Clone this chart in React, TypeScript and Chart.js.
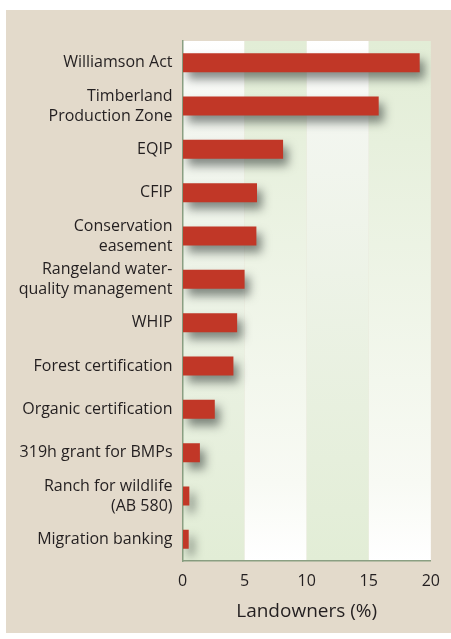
import React, { useEffect, useRef } from "react";
import { Chart, registerables } from "chart.js";

Chart.register(...registerables);

const categories: (string | string[])[] = [
  "Williamson Act",
  ["Timberland", "Production Zone"],
  "EQIP",
  "CFIP",
  ["Conservation", "easement"],
  ["Rangeland water-", "quality management"],
  "WHIP",
  "Forest certification",
  "Organic certification",
  "319h grant for BMPs",
  ["Ranch for wildlife", "(AB 580)"],
  "Migration banking",
];
const landownersPct = [19.1, 15.8, 8.1, 6.0, 5.95, 5.0, 4.4, 4.1, 2.6, 1.4, 0.55, 0.5];
const xTicks = [0, 5, 10, 15, 20];
const xTitle = "Landowners (%)";

const FONT = "'Open Sans', 'Noto Sans', sans-serif";

const panelPlugin = {
  id: "panel",
  beforeDraw(chart: any) {
    const { ctx, width, height } = chart;
    ctx.save();
    ctx.fillStyle = "#ffffff";
    ctx.fillRect(0, 0, width, height);
    ctx.fillStyle = "#e3dacb";
    ctx.fillRect(6, 10, width - 6, 623);
    const area = chart.chartArea;
    const xs = chart.scales.x;
    for (let i = 0; i < 4; i++) {
      const x0 = xs.getPixelForValue(i * 5);
      const x1 = xs.getPixelForValue(i * 5 + 5);
      const g = ctx.createLinearGradient(0, area.top, 0, area.bottom);
      const white = "#ffffff";
      const green = "#e2edd6";
      if (i % 2 === 0) {
        g.addColorStop(0, white);
        g.addColorStop(0.15, "#f3f6f0");
        g.addColorStop(1, green);
      } else {
        g.addColorStop(0, green);
        g.addColorStop(0.85, "#f8faf4");
        g.addColorStop(1, white);
      }
      ctx.fillStyle = g;
      ctx.fillRect(x0, area.top, x1 - x0, area.bottom - area.top);
    }
    ctx.restore();
  },
  beforeDatasetsDraw(chart: any) {
    const { ctx } = chart;
    ctx.save();
    ctx.shadowColor = "rgba(40,50,45,0.55)";
    ctx.shadowBlur = 10;
    ctx.shadowOffsetX = 5;
    ctx.shadowOffsetY = 7;
  },
  afterDatasetsDraw(chart: any) {
    chart.ctx.restore();
  },
};

export default function App() {
  const ref = useRef<HTMLCanvasElement>(null);
  useEffect(() => {
    const chart = new Chart(ref.current!, {
      type: "bar",
      data: {
        labels: categories as any,
        datasets: [
          {
            data: landownersPct,
            backgroundColor: "#c13727",
            borderWidth: 0,
            barPercentage: 0.88,
            categoryPercentage: 0.5,
          },
        ],
      },
      options: {
        indexAxis: "y",
        animation: false,
        responsive: false,
        maintainAspectRatio: false,
        layout: { padding: { top: 41, right: 19, left: 0, bottom: 0 } },
        plugins: { legend: { display: false }, tooltip: { enabled: false } },
        scales: {
          x: {
            type: "linear",
            min: 0,
            max: 20,
            afterBuildTicks(scale: any) {
              scale.ticks = xTicks.map((v) => ({ value: v }));
            },
            afterFit(scale: any) {
              scale.height = 78;
            },
            grid: { display: true, color: "transparent", drawTicks: false },
            border: { display: true, color: "#8a9f82", width: 1.5 },
            ticks: {
              color: "#231f20",
              font: { family: FONT, size: 16 },
              padding: 11,
            },
            title: {
              display: true,
              text: xTitle,
              color: "#231f20",
              font: { family: FONT, size: 19 },
              padding: { top: 0, bottom: 16 },
            },
          },
          y: {
            afterFit(scale: any) {
              scale.width = 182.5;
            },
            grid: { display: true, color: "transparent", drawTicks: false },
            border: { display: true, color: "#8a9f82", width: 1.5 },
            ticks: {
              color: "#231f20",
              font: { family: FONT, size: 16, lineHeight: 1.25 },
              padding: 10,
              autoSkip: false,
            },
          },
        },
      },
      plugins: [panelPlugin],
    });
    return () => chart.destroy();
  }, []);
  return (
    <div style={{ position: "absolute", left: 0, top: 0, width: 451, height: 639 }}>
      <canvas ref={ref} width={451} height={639} style={{ display: "block", width: 451, height: 639 }} />
    </div>
  );
}
